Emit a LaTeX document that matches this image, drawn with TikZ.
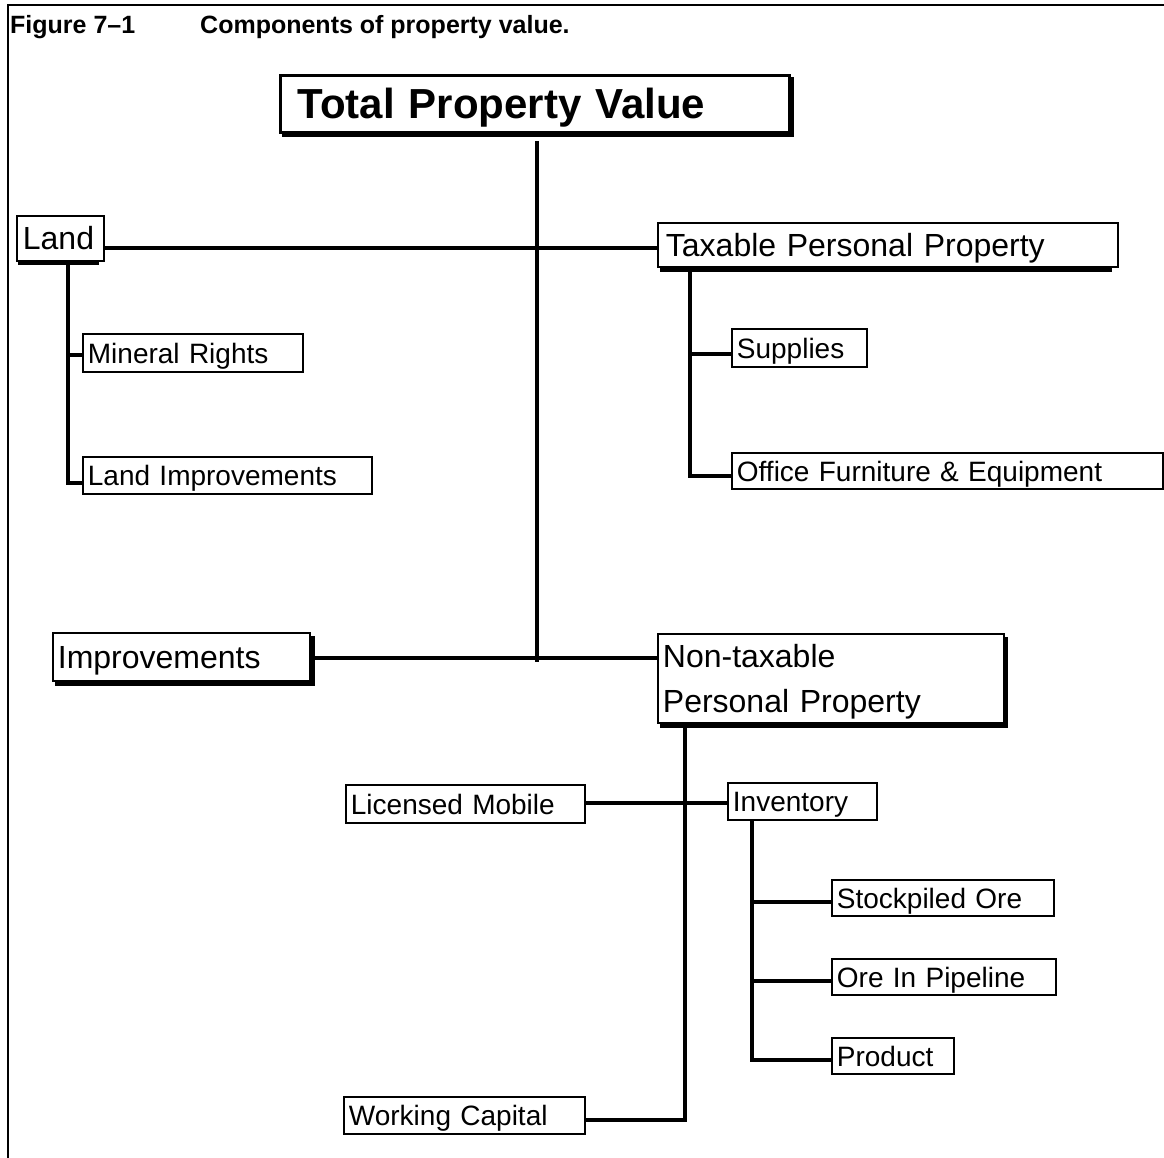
\documentclass[tikz,border=0pt]{standalone}
\usepackage{fontspec}
\setmainfont{Liberation Sans}
\usetikzlibrary{backgrounds}
\begin{document}
\begin{tikzpicture}[x=1pt,y=-1pt,
  box/.style={draw, line width=1.8pt, fill=white, anchor=north west, inner xsep=5pt, inner ysep=0pt, align=left},
  small/.style={font=\fontsize{28}{32}\selectfont, text height=20.2pt, text depth=0pt},
  big/.style={font=\fontsize{32}{45}\selectfont, text height=23pt, text depth=0pt},
  huge/.style={font=\fontsize{42}{50}\selectfont\bfseries, text height=30pt, text depth=0pt},
  conn/.style={line width=3.6pt},
  frame/.style={line width=2.5pt},
  shadowfill/.style={fill=black}
]
\useasboundingbox (0,0) rectangle (1164,1158);
% frame
\coordinate (fbl) at (8,1158);
\coordinate (ftl) at (8,5);
\coordinate (ftr) at (1164,5);
\draw[frame] (fbl) -- (ftl) -- (ftr);
% title
\node[anchor=base west, inner sep=0pt, font=\fontsize{25}{30}\selectfont\bfseries] (figno) at (10,34) {Figure 7–1};
\node[anchor=base west, inner sep=0pt, font=\fontsize{25}{30}\selectfont\bfseries] (caption) at (200,34) {Components of property value.};
% nodes
\node[box, huge, line width=3pt, inner xsep=17pt, text width=475pt, minimum height=57pt] (total) at (279,74) {Total Property Value};
\node[box, big, inner xsep=6pt, text width=75pt, minimum height=45pt] (land) at (16,215) {Land};
\node[box, small, text width=210pt, minimum height=38pt] (mineral) at (82,333) {Mineral Rights};
\node[box, small, text width=279pt, minimum height=37pt] (landimp) at (82,456) {Land Improvements};
\node[box, big, inner xsep=8pt, text width=444pt, minimum height=44pt] (taxable) at (657,222) {Taxable Personal Property};
\node[box, small, text width=125pt, minimum height=38pt] (supplies) at (731,328) {Supplies};
\node[box, small, text width=421pt, minimum height=36pt] (office) at (731,452) {Office Furniture \& Equipment};
\node[box, big, text width=247pt, minimum height=48pt] (impr) at (52,632) {Improvements};
\node[box, big, text depth=45pt, text width=336pt, minimum height=89pt] (nontax) at (657,633) {Non-taxable\\Personal Property};
\node[box, small, text width=229pt, minimum height=38pt] (licensed) at (345,784) {Licensed Mobile};
\node[box, small, text width=139pt, minimum height=37pt] (inventory) at (727,782) {Inventory};
\node[box, small, text width=212pt, minimum height=36pt] (stock) at (831,879) {Stockpiled Ore};
\node[box, small, text width=214pt, minimum height=36pt] (pipeline) at (831,958) {Ore In Pipeline};
\node[box, small, text width=112pt, minimum height=36pt] (product) at (831,1037) {Product};
\node[box, small, text width=231pt, minimum height=37pt] (working) at (343,1096) {Working Capital};
% shadows
\begin{scope}[on background layer]
\fill[shadowfill] ([xshift=3pt,yshift=-3pt]total.south west) rectangle ([xshift=3pt,yshift=-3pt]total.north east);
\fill[shadowfill] ([xshift=3pt,yshift=-4pt]impr.south west) rectangle ([xshift=4pt,yshift=-4pt]impr.north east);
\fill[shadowfill] ([xshift=3pt,yshift=-4pt]nontax.south west) rectangle ([xshift=3pt,yshift=-4pt]nontax.north east);
\fill[shadowfill] ([xshift=2pt,yshift=-3pt]land.south west) rectangle ([xshift=-6pt,yshift=-3pt]land.north east);
\fill[shadowfill] ([xshift=3pt,yshift=-4pt]taxable.south west) rectangle ([xshift=-7pt,yshift=-4pt]taxable.north east);
\end{scope}
% connectors
\coordinate (trunktop) at (537,141);
\coordinate (trunkbot) at (537,662);
\draw[conn] (trunktop) -- (trunkbot);
\draw[conn] (land.east |- 0,248) -- (taxable.west |- 0,248);
\draw[conn] (impr.east |- 0,658) -- (nontax.west |- 0,658);
\coordinate (landv) at (68,264);
\draw[conn] (landv) |- (landimp.west |- 0,483);
\draw[conn] (landv |- 0,355) -- (mineral.west |- 0,355);
\coordinate (taxv) at (690,270);
\draw[conn] (taxv) |- (office.west |- 0,476);
\draw[conn] ([xshift=-2pt]taxv |- 0,354) -- (supplies.west |- 0,354);
\coordinate (ntv) at (685,725);
\draw[conn] (ntv) |- (working.east |- 0,1120);
\draw[conn] (licensed.east |- 0,803) -- (inventory.west |- 0,803);
\coordinate (invv) at (752,819);
\draw[conn] (invv) |- (product.west |- 0,1060);
\draw[conn] (invv |- 0,902) -- (stock.west |- 0,902);
\draw[conn] (invv |- 0,981) -- (pipeline.west |- 0,981);
\end{tikzpicture}
\end{document}
